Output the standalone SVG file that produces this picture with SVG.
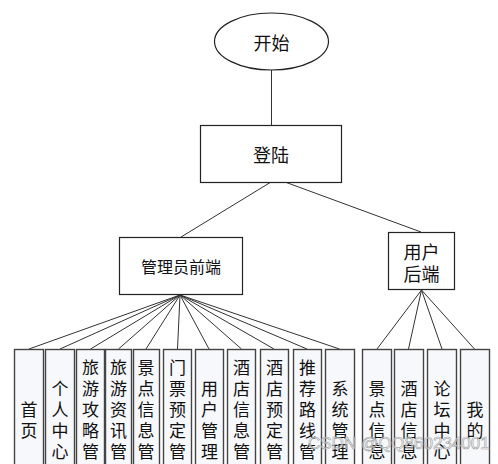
<svg xmlns="http://www.w3.org/2000/svg" width="498" height="464" viewBox="0 0 498 464">
<style>
.bg{fill:#fff}
.n{fill:#fff;stroke:#222;stroke-width:1.2}
.leaf{fill:#f6f8fb;stroke:#444;stroke-width:1.4}
.c{stroke:#333;stroke-width:1;fill:none}
.t{font-family:"Noto Sans CJK SC","Noto Sans",sans-serif;font-size:17px;fill:#111;text-anchor:middle;dominant-baseline:central}
.big{font-size:18px}
.wm{font-family:"Liberation Sans",Arial,sans-serif;font-size:17px;fill:#fff;fill-opacity:0.6;stroke:#999;stroke-width:0.6}
</style>
<rect class="bg" x="0" y="0" width="498" height="464"/>
<g id="connectors">
<line class="c" x1="271.5" y1="70" x2="271.5" y2="125"/>
<line class="c" x1="271" y1="182" x2="181" y2="237"/>
<line class="c" x1="285" y1="182" x2="421" y2="232"/>
<g id="admin-links">
<line class="c" x1="180" y1="295" x2="29" y2="349"/>
<line class="c" x1="180" y1="295" x2="60" y2="349"/>
<line class="c" x1="180" y1="295" x2="90.5" y2="349"/>
<line class="c" x1="180" y1="295" x2="118.5" y2="349"/>
<line class="c" x1="180" y1="295" x2="146" y2="349"/>
<line class="c" x1="180" y1="295" x2="177.5" y2="349"/>
<line class="c" x1="180" y1="295" x2="209" y2="349"/>
<line class="c" x1="180" y1="295" x2="241.5" y2="349"/>
<line class="c" x1="180" y1="295" x2="274" y2="349"/>
<line class="c" x1="180" y1="295" x2="307" y2="349"/>
<line class="c" x1="180" y1="295" x2="339.5" y2="349"/>
</g>
<g id="user-links">
<line class="c" x1="421.5" y1="290" x2="377" y2="349"/>
<line class="c" x1="421.5" y1="290" x2="408.5" y2="349"/>
<line class="c" x1="421.5" y1="290" x2="442" y2="349"/>
<line class="c" x1="421.5" y1="290" x2="474.5" y2="349"/>
</g>
</g>
<g id="start">
<ellipse class="n" cx="271.5" cy="41.5" rx="57" ry="28.5"/>
<text class="t big" x="271.5" y="42">开始</text>
</g>
<g id="login">
<rect class="n" x="200.5" y="125.5" width="141" height="57"/>
<text class="t big" x="271" y="154">登陆</text>
</g>
<g id="admin">
<rect class="n" x="119.5" y="237.5" width="123" height="57"/>
<text class="t" x="181" y="266" style="font-size:16px">管理员前端</text>
</g>
<g id="user">
<rect class="n" x="388.5" y="232.5" width="66" height="57"/>
<text class="t big" x="421.5" y="250.5">用户</text>
<text class="t big" x="421.5" y="272.5">后端</text>
</g>
<g id="leaf-home">
<rect class="leaf" x="14.5" y="349.5" width="29" height="130"/>
<text class="t"><tspan x="29" y="407.5">首</tspan><tspan x="29" y="428.5">页</tspan></text>
</g>
<g id="leaf-personal">
<rect class="leaf" x="45.5" y="349.5" width="29" height="130"/>
<text class="t"><tspan x="60" y="386.5">个</tspan><tspan x="60" y="407.5">人</tspan><tspan x="60" y="428.5">中</tspan><tspan x="60" y="449.5">心</tspan></text>
</g>
<g id="leaf-guide">
<rect class="leaf" x="76.5" y="349.5" width="28" height="130"/>
<text class="t"><tspan x="90.5" y="365.5">旅</tspan><tspan x="90.5" y="386.5">游</tspan><tspan x="90.5" y="407.5">攻</tspan><tspan x="90.5" y="428.5">略</tspan><tspan x="90.5" y="449.5">管</tspan><tspan x="90.5" y="470.5">理</tspan></text>
</g>
<g id="leaf-news">
<rect class="leaf" x="105.5" y="349.5" width="26" height="130"/>
<text class="t"><tspan x="118.5" y="365.5">旅</tspan><tspan x="118.5" y="386.5">游</tspan><tspan x="118.5" y="407.5">资</tspan><tspan x="118.5" y="428.5">讯</tspan><tspan x="118.5" y="449.5">管</tspan><tspan x="118.5" y="470.5">理</tspan></text>
</g>
<g id="leaf-scenic">
<rect class="leaf" x="133.5" y="349.5" width="26" height="130"/>
<text class="t"><tspan x="146" y="365.5">景</tspan><tspan x="146" y="386.5">点</tspan><tspan x="146" y="407.5">信</tspan><tspan x="146" y="428.5">息</tspan><tspan x="146" y="449.5">管</tspan><tspan x="146" y="470.5">理</tspan></text>
</g>
<g id="leaf-ticket">
<rect class="leaf" x="163.5" y="349.5" width="28" height="130"/>
<text class="t"><tspan x="177.5" y="365.5">门</tspan><tspan x="177.5" y="386.5">票</tspan><tspan x="177.5" y="407.5">预</tspan><tspan x="177.5" y="428.5">定</tspan><tspan x="177.5" y="449.5">管</tspan><tspan x="177.5" y="470.5">理</tspan></text>
</g>
<g id="leaf-users">
<rect class="leaf" x="195.5" y="349.5" width="28" height="130"/>
<text class="t"><tspan x="209.5" y="386.5">用</tspan><tspan x="209.5" y="407.5">户</tspan><tspan x="209.5" y="428.5">管</tspan><tspan x="209.5" y="449.5">理</tspan></text>
</g>
<g id="leaf-hotel">
<rect class="leaf" x="227.5" y="349.5" width="28" height="130"/>
<text class="t"><tspan x="241.5" y="365.5">酒</tspan><tspan x="241.5" y="386.5">店</tspan><tspan x="241.5" y="407.5">信</tspan><tspan x="241.5" y="428.5">息</tspan><tspan x="241.5" y="449.5">管</tspan><tspan x="241.5" y="470.5">理</tspan></text>
</g>
<g id="leaf-booking">
<rect class="leaf" x="260.5" y="349.5" width="28" height="130"/>
<text class="t"><tspan x="274.5" y="365.5">酒</tspan><tspan x="274.5" y="386.5">店</tspan><tspan x="274.5" y="407.5">预</tspan><tspan x="274.5" y="428.5">定</tspan><tspan x="274.5" y="449.5">管</tspan><tspan x="274.5" y="470.5">理</tspan></text>
</g>
<g id="leaf-route">
<rect class="leaf" x="293.5" y="349.5" width="28" height="130"/>
<text class="t"><tspan x="307.5" y="365.5">推</tspan><tspan x="307.5" y="386.5">荐</tspan><tspan x="307.5" y="407.5">路</tspan><tspan x="307.5" y="428.5">线</tspan><tspan x="307.5" y="449.5">管</tspan><tspan x="307.5" y="470.5">理</tspan></text>
</g>
<g id="leaf-system">
<rect class="leaf" x="325.5" y="349.5" width="29" height="130"/>
<text class="t"><tspan x="340" y="386.5">系</tspan><tspan x="340" y="407.5">统</tspan><tspan x="340" y="428.5">管</tspan><tspan x="340" y="449.5">理</tspan></text>
</g>
<g id="leaf-u-scenic">
<rect class="leaf" x="362.5" y="349.5" width="29" height="130"/>
<text class="t"><tspan x="377" y="386.5">景</tspan><tspan x="377" y="407.5">点</tspan><tspan x="377" y="428.5">信</tspan><tspan x="377" y="449.5">息</tspan></text>
</g>
<g id="leaf-u-hotel">
<rect class="leaf" x="394.5" y="349.5" width="29" height="130"/>
<text class="t"><tspan x="409" y="386.5">酒</tspan><tspan x="409" y="407.5">店</tspan><tspan x="409" y="428.5">信</tspan><tspan x="409" y="449.5">息</tspan></text>
</g>
<g id="leaf-u-forum">
<rect class="leaf" x="427.5" y="349.5" width="29" height="130"/>
<text class="t"><tspan x="442" y="386.5">论</tspan><tspan x="442" y="407.5">坛</tspan><tspan x="442" y="428.5">中</tspan><tspan x="442" y="449.5">心</tspan></text>
</g>
<g id="leaf-u-mine">
<rect class="leaf" x="460.5" y="349.5" width="29" height="130"/>
<text class="t"><tspan x="475" y="407.5">我</tspan><tspan x="475" y="428.5">的</tspan></text>
</g>
<text class="wm" x="308" y="449">CSDN @QQ860234001</text>
</svg>
